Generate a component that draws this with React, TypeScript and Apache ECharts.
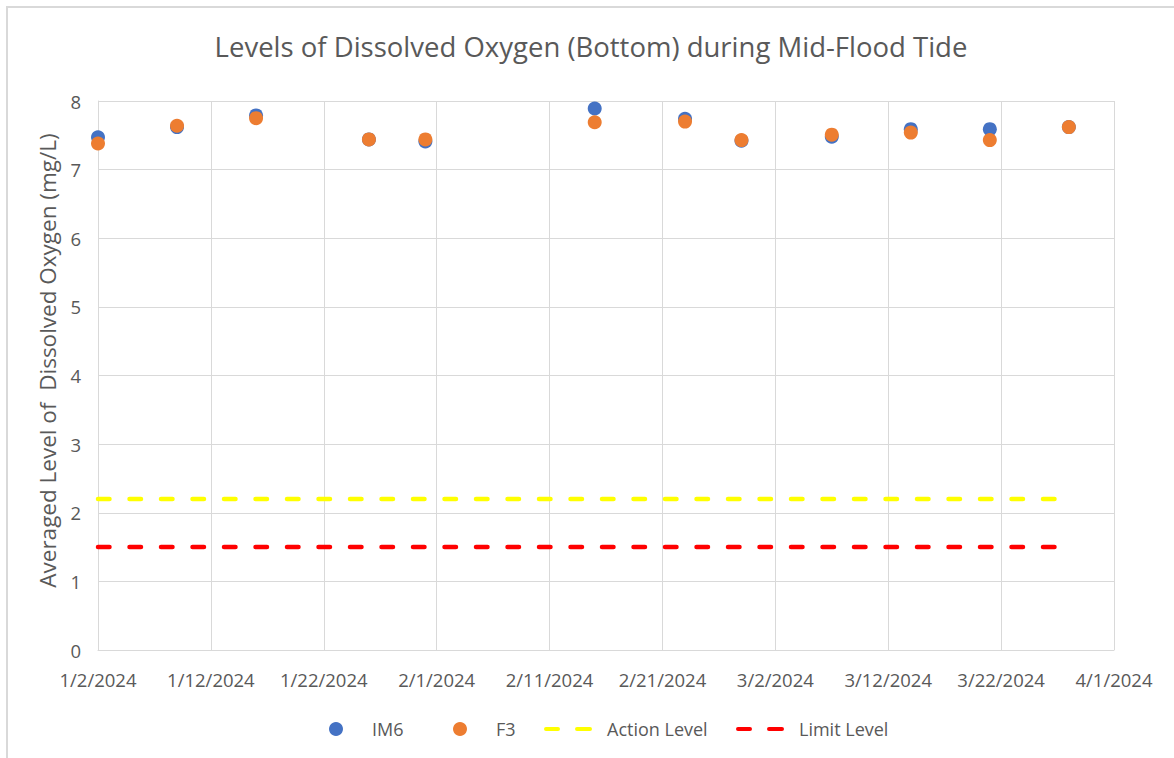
import React, { useEffect, useRef } from "react";
import * as echarts from "echarts";

const sampleDates = [
  "2024-01-02", "2024-01-09", "2024-01-16", "2024-01-26", "2024-01-31", "2024-02-15",
  "2024-02-23", "2024-02-28", "2024-03-07", "2024-03-14", "2024-03-21", "2024-03-28",
];
const im6Values = [7.47, 7.62, 7.79, 7.44, 7.41, 7.89, 7.74, 7.42, 7.48, 7.59, 7.59, 7.62];
const f3Values = [7.38, 7.64, 7.75, 7.44, 7.44, 7.69, 7.70, 7.43, 7.51, 7.54, 7.43, 7.62];
const actionLevel = 2.2;
const limitLevel = 1.5;
const levelStart = "2024-01-02";
const levelEnd = "2024-03-28";
const xTickLabels = [
  "1/2/2024", "1/12/2024", "1/22/2024", "2/1/2024", "2/11/2024",
  "2/21/2024", "3/2/2024", "3/12/2024", "3/22/2024", "4/1/2024",
];
const yTickLabels = ["0", "1", "2", "3", "4", "5", "6", "7", "8"];

const origin = Date.UTC(2024, 0, 2);
const dayOf = (s: string) => {
  const [y, m, d] = s.split("-").map(Number);
  return Math.round((Date.UTC(y, m - 1, d) - origin) / 86400000);
};

const FONT = "Open Sans";
const GREY_TEXT = "#595959";
const GRID = "#d9d9d9";
const BLUE = "#4472C4";
const ORANGE = "#ED7D31";
const YELLOW = "#FFFF00";
const RED = "#FF0000";
const DASH_ICON =
  "path://M2,0H14A2,2 0 0 1 14,4H2A2,2 0 0 1 2,0Z M33,0H46A2,2 0 0 1 46,4H33A2,2 0 0 1 33,0Z";

export default function App() {
  const ref = useRef<HTMLDivElement>(null);
  useEffect(() => {
    if (!ref.current) return;
    const chart = echarts.init(ref.current, undefined, { renderer: "svg" });
    const legendBase = (left: number, item: any, pad: number, w: number, h: number) => ({
      left,
      top: 720,
      padding: 0,
      itemWidth: w,
      itemHeight: h,
      data: [item],
      selectedMode: false,
      textStyle: { color: GREY_TEXT, fontSize: 18, fontFamily: FONT, padding: [0, 0, 0, pad] },
    });
    chart.setOption({
      animation: false,
      backgroundColor: "#ffffff",
      title: {
        text: "Levels of Dissolved Oxygen (Bottom) during Mid-Flood Tide",
        left: 591,
        textAlign: "center",
        top: 32,
        padding: 0,
        textStyle: { color: GREY_TEXT, fontSize: 27.5, fontWeight: "normal", fontFamily: FONT },
      },
      legend: [
        legendBase(329, { name: "IM6", icon: "circle", itemStyle: { color: BLUE, opacity: 1 } }, 24, 14, 14),
        legendBase(453, { name: "F3", icon: "circle", itemStyle: { color: ORANGE, opacity: 1 } }, 24, 14, 14),
        legendBase(544, { name: "Action Level", icon: DASH_ICON, itemStyle: { color: YELLOW, borderWidth: 0 } }, 10, 48, 14),
        legendBase(736, { name: "Limit Level", icon: DASH_ICON, itemStyle: { color: RED, borderWidth: 0 } }, 10, 48, 14),
      ],
      grid: { left: 98, right: 60, top: 101, bottom: 108, containLabel: false },
      xAxis: {
        type: "value",
        min: 0,
        max: 90,
        interval: 10,
        axisLine: { show: true, lineStyle: { color: GRID, width: 1 } },
        axisTick: { show: false },
        splitLine: { show: true, lineStyle: { color: GRID, width: 1 } },
        axisLabel: {
          color: GREY_TEXT,
          fontSize: 18.5,
          fontFamily: FONT,
          margin: 20,
          formatter: (v: number) => xTickLabels[Math.round(v / 10)] ?? "",
        },
      },
      yAxis: {
        type: "value",
        min: 0,
        max: 8,
        interval: 1,
        name: "Averaged Level of  Dissolved Oxygen (mg/L)",
        nameLocation: "middle",
        nameGap: 39,
        nameTextStyle: { color: GREY_TEXT, fontSize: 22.5, fontFamily: FONT, padding: [0, 0, 0, 30] },
        axisLine: { show: true, lineStyle: { color: GRID, width: 1 } },
        axisTick: { show: false },
        splitLine: { show: true, lineStyle: { color: GRID, width: 1 } },
        axisLabel: {
          color: GREY_TEXT,
          fontSize: 18.5,
          fontFamily: FONT,
          margin: 17,
          formatter: (v: number) => yTickLabels[Math.round(v)] ?? "",
        },
      },
      graphic: [
        {
          type: "rect",
          shape: { x: 7, y: 7, width: 1200, height: 800 },
          style: { fill: "none", stroke: GRID, lineWidth: 2 },
          silent: true,
          z: -10,
        },
      ],
      series: [
        {
          name: "IM6",
          type: "scatter",
          symbol: "circle",
          symbolSize: 14,
          itemStyle: { color: BLUE, opacity: 1 },
          data: sampleDates.map((d, i) => [dayOf(d), im6Values[i]]),
          z: 3,
        },
        {
          name: "F3",
          type: "scatter",
          symbol: "circle",
          symbolSize: 14,
          itemStyle: { color: ORANGE, opacity: 1 },
          data: sampleDates.map((d, i) => [dayOf(d), f3Values[i]]),
          z: 4,
        },
        {
          name: "Action Level",
          type: "line",
          symbol: "none",
          color: YELLOW,
          lineStyle: { color: YELLOW, width: 4.5, type: [11.5, 20], cap: "round" },
          data: [[dayOf(levelStart), actionLevel], [dayOf(levelEnd), actionLevel]],
          z: 2,
        },
        {
          name: "Limit Level",
          type: "line",
          symbol: "none",
          color: RED,
          lineStyle: { color: RED, width: 4.5, type: [11.5, 20], cap: "round" },
          data: [[dayOf(levelStart), limitLevel], [dayOf(levelEnd), limitLevel]],
          z: 2,
        },
      ],
    });
    return () => chart.dispose();
  }, []);
  return (
    <div
      ref={ref}
      style={{ position: "fixed", left: 0, top: 0, width: 1174, height: 758 }}
    />
  );
}
